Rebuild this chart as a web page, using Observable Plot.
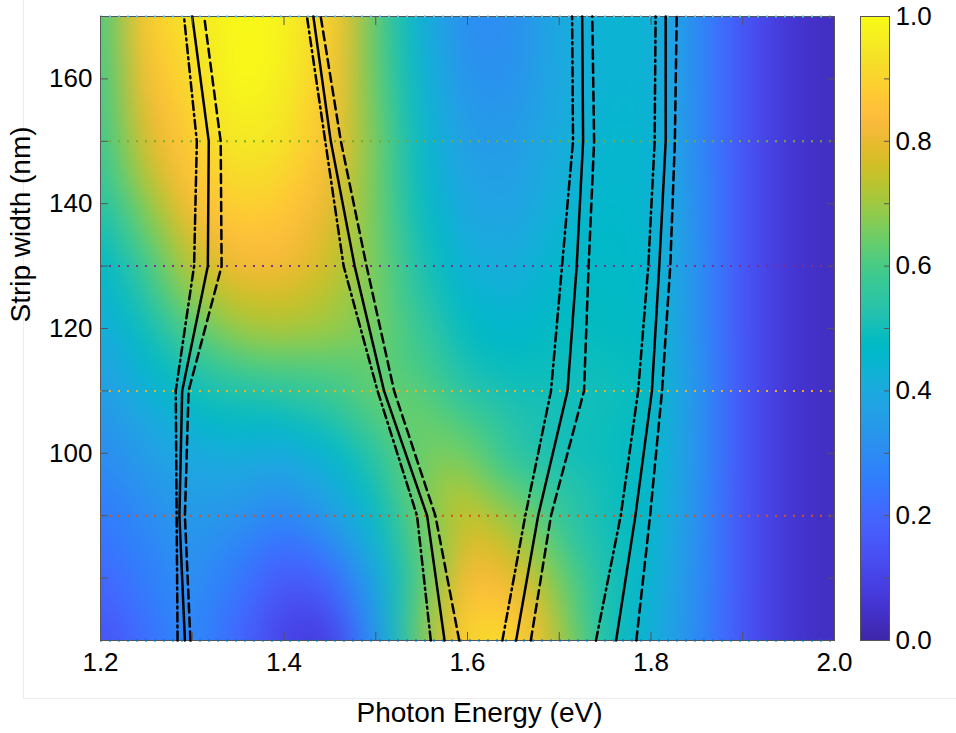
<!DOCTYPE html>
<html><head><meta charset="utf-8">
<script src="https://cdn.jsdelivr.net/npm/d3@7"></script>
<script src="https://cdn.jsdelivr.net/npm/@observablehq/plot@0.6"></script>
<style>
html,body{margin:0;padding:0;background:#fff;}
#fig{position:relative;width:956px;height:733px;overflow:hidden;font-family:"Liberation Sans",Arial,sans-serif;background:#fff;}
#fig > *{position:absolute;}
#border{left:23px;top:0;width:933px;height:699px;border-left:1px solid #ececec;border-bottom:1px solid #ececec;box-sizing:border-box;}
#main{left:0;top:0;}
#cbar{left:860px;top:0;}
</style></head>
<body><div id="fig"><div id="border"></div><div id="main"></div><div id="cbar"></div></div>
<script>
// ---- heat-map grid (photon energy x strip width) ----
const energyGrid = [1.20,1.25,1.30,1.35,1.40,1.45,1.50,1.55,1.60,1.65,1.70,1.75,1.80,1.85,1.90,1.95,2.00];
const widthGrid  = [70,80,90,100,110,120,130,140,150,160,170];
const abs070 = [0.13,0.22,0.30,0.20,0.09,0.07,0.32,0.66,0.92,0.92,0.72,0.52,0.42,0.30,0.15,0.06,0.03];
const abs080 = [0.20,0.26,0.32,0.25,0.16,0.20,0.38,0.62,0.84,0.80,0.65,0.52,0.44,0.31,0.15,0.06,0.03];
const abs090 = [0.25,0.30,0.35,0.33,0.28,0.35,0.47,0.65,0.76,0.68,0.56,0.50,0.46,0.32,0.15,0.06,0.03];
const abs100 = [0.30,0.36,0.40,0.42,0.40,0.45,0.55,0.65,0.65,0.54,0.50,0.49,0.47,0.33,0.15,0.06,0.03];
const abs110 = [0.35,0.43,0.50,0.53,0.55,0.58,0.64,0.62,0.53,0.50,0.50,0.50,0.48,0.33,0.15,0.06,0.03];
const abs120 = [0.40,0.50,0.62,0.70,0.72,0.70,0.66,0.57,0.47,0.45,0.48,0.48,0.47,0.32,0.15,0.06,0.03];
const abs130 = [0.45,0.58,0.74,0.82,0.82,0.76,0.66,0.52,0.42,0.41,0.46,0.47,0.46,0.32,0.15,0.06,0.03];
const abs140 = [0.52,0.68,0.84,0.90,0.88,0.80,0.65,0.48,0.38,0.37,0.43,0.46,0.45,0.31,0.15,0.06,0.03];
const abs150 = [0.55,0.78,0.89,0.96,0.94,0.85,0.65,0.46,0.35,0.35,0.41,0.45,0.45,0.30,0.15,0.06,0.03];
const abs160 = [0.56,0.84,0.92,1.00,0.97,0.87,0.63,0.44,0.32,0.32,0.40,0.44,0.44,0.30,0.15,0.06,0.03];
const abs170 = [0.57,0.88,0.95,1.00,0.98,0.89,0.62,0.42,0.30,0.31,0.40,0.44,0.44,0.30,0.15,0.06,0.03];

// ---- mode lines (photon energy at each strip width) ----
const lineWidths = [70,90,110,130,150,170];
const mode1Solid   = [1.292,1.286,1.289,1.317,1.318,1.300];
const mode1Dashed  = [1.298,1.292,1.296,1.332,1.331,1.313];
const mode1DashDot = [1.284,1.283,1.282,1.302,1.305,1.291];
const mode2Solid   = [1.575,1.556,1.509,1.477,1.451,1.432];
const mode2Dashed  = [1.591,1.565,1.520,1.490,1.462,1.440];
const mode2DashDot = [1.560,1.545,1.502,1.465,1.445,1.425];
const mode3Solid   = [1.653,1.677,1.709,1.719,1.726,1.725];
const mode3Dashed  = [1.669,1.691,1.727,1.732,1.738,1.736];
const mode3DashDot = [1.638,1.663,1.691,1.703,1.715,1.714];
const mode4Solid   = [1.762,1.783,1.801,1.809,1.816,1.816];
const mode4Dashed  = [1.784,1.799,1.812,1.821,1.826,1.828];
const mode4DashDot = [1.740,1.767,1.786,1.797,1.804,1.805];

// ---- dotted reference widths ----
const dottedWidths = [70,90,110,130,150,170];

// ---- ticks ----
const xTickValues = [1.2,1.3,1.4,1.5,1.6,1.7,1.8,1.9,2.0];
const xTickLabels = [1.2,1.4,1.6,1.8,2.0];
const yTickValues = [70,80,90,100,110,120,130,140,150,160,170];
const yTickLabels = [100,120,140,160];
const cbarTickValues = [0,0.1,0.2,0.3,0.4,0.5,0.6,0.7,0.8,0.9,1.0];
const cbarTickLabels = [0,0.2,0.4,0.6,0.8,1.0];

// ---- styles ----
const dottedColors = ["#0072BD","#D95319","#EDB120","#7E2F8E","#77AC30","#4DBEEE"];
const PARULA = [[0.2422,0.1504,0.6603],[0.2504,0.1650,0.7076],[0.2578,0.1818,0.7511],[0.2647,0.1978,0.7952],[0.2706,0.2147,0.8364],[0.2751,0.2342,0.8710],[0.2783,0.2559,0.8991],[0.2803,0.2782,0.9221],[0.2813,0.3006,0.9414],[0.2810,0.3228,0.9579],[0.2795,0.3447,0.9717],[0.2760,0.3667,0.9829],[0.2699,0.3892,0.9906],[0.2602,0.4123,0.9952],[0.2440,0.4358,0.9988],[0.2206,0.4603,0.9973],[0.1963,0.4847,0.9892],[0.1834,0.5074,0.9798],[0.1786,0.5289,0.9682],[0.1764,0.5499,0.9520],[0.1687,0.5703,0.9359],[0.1540,0.5902,0.9218],[0.1460,0.6091,0.9079],[0.1380,0.6276,0.8973],[0.1248,0.6459,0.8883],[0.1113,0.6635,0.8763],[0.0952,0.6798,0.8598],[0.0689,0.6948,0.8394],[0.0297,0.7082,0.8163],[0.0036,0.7203,0.7917],[0.0067,0.7312,0.7660],[0.0433,0.7411,0.7394],[0.0964,0.7500,0.7120],[0.1408,0.7584,0.6842],[0.1717,0.7670,0.6554],[0.1938,0.7758,0.6251],[0.2161,0.7843,0.5923],[0.2470,0.7918,0.5567],[0.2906,0.7973,0.5188],[0.3406,0.8008,0.4789],[0.3909,0.8029,0.4354],[0.4456,0.8024,0.3909],[0.5044,0.7993,0.3480],[0.5616,0.7942,0.3045],[0.6174,0.7876,0.2612],[0.6720,0.7793,0.2227],[0.7242,0.7698,0.1910],[0.7738,0.7598,0.1646],[0.8203,0.7498,0.1535],[0.8634,0.7406,0.1596],[0.9035,0.7330,0.1774],[0.9393,0.7288,0.2100],[0.9728,0.7298,0.2394],[0.9956,0.7434,0.2371],[0.9970,0.7659,0.2199],[0.9952,0.7893,0.2028],[0.9892,0.8136,0.1885],[0.9786,0.8386,0.1766],[0.9676,0.8639,0.1643],[0.9610,0.8890,0.1537],[0.9597,0.9135,0.1423],[0.9628,0.9373,0.1265],[0.9691,0.9606,0.1064],[0.9769,0.9839,0.0805]];
const parulaInterp = d3.piecewise(d3.interpolateRgb, PARULA.map(([r,g,b]) => d3.rgb(r*255,g*255,b*255).formatHex()));
const FONT = '"Liberation Sans", Arial, Helvetica, sans-serif';
const AXIS = "#555";

// ---- build tables ----
const absRows = [abs070,abs080,abs090,abs100,abs110,abs120,abs130,abs140,abs150,abs160,abs170];
const cells = [];
widthGrid.forEach((w,i) => energyGrid.forEach((e,j) => cells.push({e, w, v: absRows[i][j]})));

const modeSets = {
  solid:   [mode1Solid, mode2Solid, mode3Solid, mode4Solid],
  dashed:  [mode1Dashed, mode2Dashed, mode3Dashed, mode4Dashed],
  dashdot: [mode1DashDot, mode2DashDot, mode3DashDot, mode4DashDot]
};
function toRows(series){
  const out = [];
  series.forEach((arr, m) => arr.forEach((e, k) => out.push({mode: m, e, w: lineWidths[k]})));
  return out;
}
const lineStyles = {solid: null, dashed: "9,5", dashdot: "9,4,2,4"};

const colorScale = {type: "linear", domain: [0,1], interpolate: parulaInterp, clamp: true};

const main = Plot.plot({
  width: 956, height: 733,
  marginLeft: 100, marginRight: 122, marginTop: 16, marginBottom: 93,
  x: {domain: [1.2, 2.0]},
  y: {domain: [70, 170]},
  color: colorScale,
  style: {fontFamily: FONT, fontSize: "26px", color: "black", background: "transparent", overflow: "visible"},
  marks: [
    Plot.raster(cells, {x: "e", y: "w", fill: "v", interpolate: "barycentric", blur: 14, x1: 1.2, x2: 2.0, y1: 70, y2: 170}),
    Plot.frame({stroke: AXIS, strokeWidth: 1}),
    ...dottedWidths.map((w, i) => Plot.ruleY([w], {stroke: dottedColors[i], strokeWidth: 2, strokeDasharray: "2,7"})),
    ...Object.keys(modeSets).map(k => Plot.line(toRows(modeSets[k]), {x: "e", y: "w", z: "mode", stroke: "black", strokeWidth: 2.5, strokeDasharray: lineStyles[k]})),
    Plot.axisX({anchor: "bottom", ticks: xTickValues, tickSize: 8, dy: -8, text: null, label: null, stroke: AXIS}),
    Plot.axisX({anchor: "top", ticks: xTickValues, tickSize: 8, dy: 8, text: null, label: null, stroke: AXIS}),
    Plot.axisY({anchor: "left", ticks: yTickValues, tickSize: 8, dx: 8, text: null, label: null, stroke: AXIS}),
    Plot.axisY({anchor: "right", ticks: yTickValues, tickSize: 8, dx: -8, text: null, label: null, stroke: AXIS}),
    Plot.axisX({anchor: "bottom", ticks: xTickLabels, tickSize: 0, tickPadding: 12, tickFormat: ".1f", label: null, fontSize: 26, fill: "black"}),
    Plot.axisY({anchor: "left", ticks: yTickLabels, tickSize: 0, tickPadding: 8, tickFormat: "d", label: null, fontSize: 26, fill: "black"}),
    Plot.text(["Photon Energy (eV)"], {text: d => d, frameAnchor: "bottom", dx: 12, dy: 62, lineAnchor: "top", fontSize: 28, fill: "black"}),
    Plot.text(["Strip width (nm)"], {text: d => d, frameAnchor: "left", rotate: -90, dx: -79, dy: -6, fontSize: 28, fill: "black"})
  ]
});
document.getElementById("main").appendChild(main);

const cbar = Plot.plot({
  width: 96, height: 733,
  marginLeft: 0, marginRight: 67, marginTop: 16, marginBottom: 93,
  x: {domain: [0,1], axis: null},
  y: {domain: [0,1], axis: null},
  color: colorScale,
  style: {fontFamily: FONT, fontSize: "26px", color: "black", background: "transparent", overflow: "visible"},
  marks: [
    Plot.raster({x1: 0, x2: 1, y1: 0, y2: 1, fill: (x, y) => y}),
    Plot.frame({stroke: AXIS, strokeWidth: 1}),
    Plot.axisY({anchor: "right", ticks: cbarTickValues, tickSize: 6, dx: -6, text: null, label: null, stroke: AXIS}),
    Plot.axisY({anchor: "right", ticks: cbarTickLabels, tickSize: 0, tickPadding: 6, tickFormat: ".1f", label: null, fontSize: 26, fill: "black"})
  ]
});
document.getElementById("cbar").appendChild(cbar);
</script>
</body></html>
